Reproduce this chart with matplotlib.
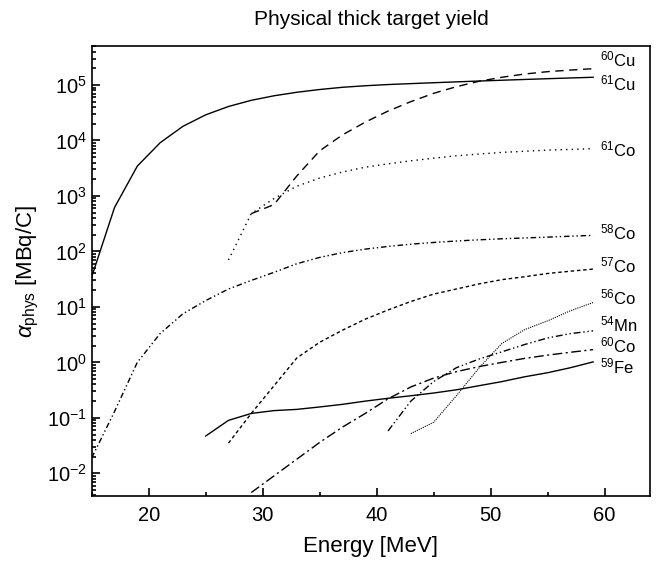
import matplotlib
matplotlib.use('Agg')
from matplotlib import pyplot as plt
from matplotlib.ticker import MultipleLocator, LogLocator, NullFormatter
import numpy as np

plt.rcParams['font.family'] = ['Liberation Sans', 'DejaVu Sans']
plt.rcParams['mathtext.fontset'] = 'custom'
plt.rcParams['mathtext.rm'] = 'Liberation Sans'
plt.rcParams['mathtext.it'] = 'Liberation Sans:italic'
plt.rcParams['mathtext.sf'] = 'Liberation Sans'

# yields in MBq/C versus proton energy in MeV
e_cu61 = [15, 17, 19, 21, 23, 25, 27, 29, 31, 33, 35, 37, 39, 41, 43, 45, 47, 49, 51, 53, 55, 57, 59]
y_cu61 = [35, 620, 3450, 9100, 18000, 29000, 41000, 53000, 64000, 74000, 83000, 91000, 97000,
          102000, 106000, 110000, 114000, 118000, 122000, 126000, 130000, 134000, 138000]

e_cu60 = [29, 31, 33, 35, 37, 39, 41, 43, 45, 47, 49, 51, 53, 55, 57, 59]
y_cu60 = [480, 700, 2300, 6500, 12600, 21400, 33900, 50100, 70800, 93300, 117000, 138000,
          158000, 174000, 186000, 197000]

e_co61 = [27, 29, 31, 33, 35, 37, 39, 41, 43, 45, 47, 49, 51, 53, 55, 57, 59]
y_co61 = [70, 480, 900, 1500, 2100, 2700, 3300, 3800, 4300, 4800, 5300, 5700, 6100, 6400,
          6700, 6900, 7100]

e_co58 = [15, 17, 19, 21, 23, 25, 27, 29, 31, 33, 35, 37, 39, 41, 43, 45, 47, 49, 51, 53, 55, 57, 59]
y_co58 = [0.019, 0.13, 1.0, 3.3, 7.5, 13, 21, 30, 42, 60, 78, 95, 110, 123, 135, 145, 154,
          162, 169, 175, 181, 188, 195]

e_co57 = [27, 29, 31, 33, 35, 37, 39, 41, 43, 45, 47, 49, 51, 53, 55, 57, 59]
y_co57 = [0.035, 0.12, 0.38, 1.2, 2.3, 3.8, 6.0, 8.8, 12.5, 17, 21, 26, 31, 35, 40, 44, 48]

e_co56 = [43, 45, 47, 49, 51, 53, 55, 57, 59]
y_co56 = [0.052, 0.083, 0.25, 0.8, 2.2, 3.9, 5.6, 8.5, 12]

e_mn54 = [41, 43, 45, 47, 49, 51, 53, 55, 57, 59]
y_mn54 = [0.058, 0.2, 0.45, 0.8, 1.15, 1.55, 2.1, 2.75, 3.3, 3.7]

e_co60 = [29, 31, 33, 35, 37, 39, 41, 43, 45, 47, 49, 51, 53, 55, 57, 59]
y_co60 = [0.0045, 0.009, 0.018, 0.036, 0.068, 0.12, 0.22, 0.36, 0.52, 0.68, 0.84, 1.0,
          1.18, 1.35, 1.52, 1.7]

e_fe59 = [25, 27, 29, 31, 33, 35, 37, 39, 41, 43, 45, 47, 49, 51, 53, 55, 57, 59]
y_fe59 = [0.047, 0.09, 0.12, 0.135, 0.142, 0.157, 0.175, 0.2, 0.225, 0.25, 0.28, 0.32,
          0.38, 0.45, 0.55, 0.65, 0.8, 1.02]

labels = [r'$^{60}$Cu', r'$^{61}$Cu', r'$^{61}$Co', r'$^{58}$Co', r'$^{57}$Co',
          r'$^{56}$Co', r'$^{54}$Mn', r'$^{60}$Co', r'$^{59}$Fe']
label_y = [2.9e5, 1.05e5, 6.8e3, 2.2e2, 55, 15, 4.9, 2.0, 0.85]

fig = plt.figure(figsize=(6.6, 5.64), dpi=100)
ax = fig.add_axes([0.139, 0.1206, 0.846, 0.7974])

lw = 1.0
ax.plot(e_cu61, y_cu61, c='k', lw=lw, ls='-')
ax.plot(e_cu60, y_cu60, c='k', lw=lw, ls=(0, (6, 4)))
ax.plot(e_co61, y_co61, c='k', lw=lw, ls=(0, (1, 3)))
ax.plot(e_co58, y_co58, c='k', lw=lw, ls=(0, (4, 2, 1, 2, 1, 2)))
ax.plot(e_co57, y_co57, c='k', lw=lw, ls=(0, (2.5, 2)))
ax.plot(e_co56, y_co56, c='k', lw=0.8, ls=(0, (1, 1)))
ax.plot(e_mn54, y_mn54, c='k', lw=lw, ls=(0, (5, 2, 1, 2, 1, 2)))
ax.plot(e_co60, y_co60, c='k', lw=lw, ls=(0, (7, 2.5, 1.5, 2.5)))
ax.plot(e_fe59, y_fe59, c='k', lw=lw, ls='-')

for txt, yv in zip(labels, label_y):
    ax.text(59.6, yv, txt, fontsize=12, va='center', ha='left')

ax.set_yscale('log')
ax.set_xlim(15, 64)
ax.set_ylim(3.9e-3, 5e5)
ax.xaxis.set_major_locator(MultipleLocator(10))
ax.xaxis.set_minor_locator(MultipleLocator(5))
ax.yaxis.set_major_locator(LogLocator(base=10, numticks=20))
ax.yaxis.set_minor_locator(LogLocator(base=10, subs=np.arange(2, 10), numticks=20))
ax.yaxis.set_minor_formatter(NullFormatter())
ax.tick_params(which='both', direction='in', top=False, right=False, labelsize=14.5, width=1.2)
ax.tick_params(axis='x', pad=7)
ax.tick_params(which='major', length=6)
ax.tick_params(which='minor', length=3)
for s in ax.spines.values():
    s.set_linewidth(1.2)

ax.set_xlabel('Energy [MeV]', fontsize=16, labelpad=8)
ax.set_ylabel(r'$\alpha_{\rm phys}$ [MBq/C]', fontsize=16)
ax.set_title('Physical thick target yield', fontsize=15, pad=15)

fig.savefig('out.png', dpi=100)
